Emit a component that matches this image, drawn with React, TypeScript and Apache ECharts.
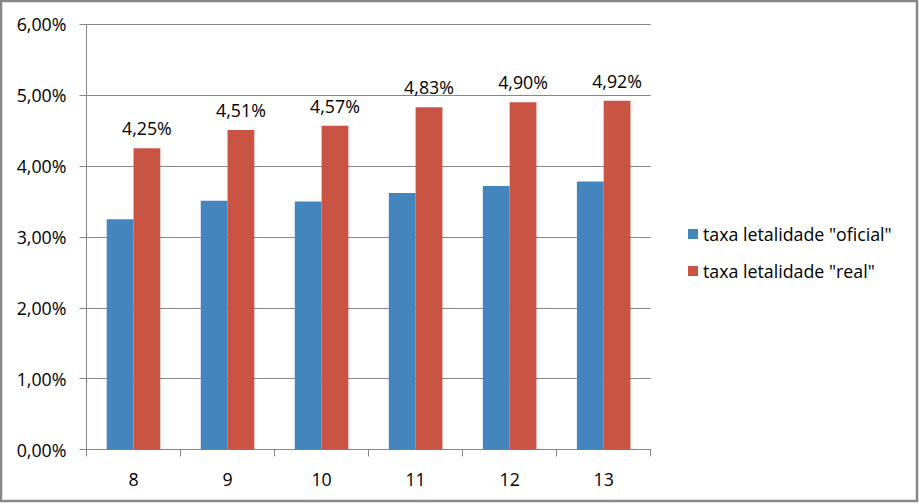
import React, { useEffect, useRef } from "react";
import * as echarts from "echarts";

const categories = ["8", "9", "10", "11", "12", "13"];
const oficialValues = [3.25, 3.51, 3.5, 3.62, 3.72, 3.78];
const realValues = [4.25, 4.51, 4.57, 4.83, 4.9, 4.92];
const seriesNames = ['taxa letalidade "oficial"', 'taxa letalidade "real"'];

const fmt = (v: number) => v.toFixed(2).replace(".", ",") + "%";

export default function App() {
  const ref = useRef<HTMLDivElement>(null);
  useEffect(() => {
    document.body.style.margin = "0";
    const chart = echarts.init(ref.current!, null, { renderer: "svg" });
    const font = "'Open Sans', sans-serif";
    const fs = 17.8;
    chart.setOption({
      animation: false,
      backgroundColor: "#ffffff",
      textStyle: { fontFamily: font },
      graphic: [
        {
          type: "rect",
          shape: { x: 1, y: 1, width: 916, height: 500 },
          style: { fill: "none", stroke: "#878787", lineWidth: 2.5 },
          silent: true,
        },
      ],
      grid: { left: 86.5, right: 268.3, top: 24.3, bottom: 54.5 },
      legend: {
        orient: "vertical",
        left: 683,
        top: 220,
        itemWidth: 10,
        itemHeight: 10,
        itemGap: 19,
        icon: "rect",
        textStyle: { fontFamily: font, fontSize: fs, color: "#000" },
        data: seriesNames,
      },
      xAxis: {
        type: "category",
        data: categories,
        axisLine: { lineStyle: { color: "#868686", width: 1 } },
        axisTick: { show: true, length: 7, lineStyle: { color: "#868686" } },
        axisLabel: { color: "#000", fontSize: fs, fontFamily: font, margin: 20 },
      },
      yAxis: {
        type: "value",
        min: 0,
        max: 6,
        interval: 1,
        axisLine: { show: true, lineStyle: { color: "#868686", width: 1 } },
        axisTick: { show: true, length: 7, lineStyle: { color: "#868686" } },
        splitLine: { lineStyle: { color: "#868686", width: 1 } },
        axisLabel: {
          color: "#000",
          fontSize: fs,
          fontFamily: font,
          margin: 20,
          formatter: (v: number) => fmt(v),
        },
      },
      series: [
        {
          name: seriesNames[0],
          type: "bar",
          data: oficialValues,
          barGap: "0%",
          barCategoryGap: "43%",
          itemStyle: { color: "#4485BE" },
        },
        {
          name: seriesNames[1],
          type: "bar",
          data: realValues,
          barGap: "0%",
          barCategoryGap: "43%",
          itemStyle: { color: "#CA5443" },
          label: {
            show: true,
            position: "top",
            distance: 11,
            color: "#000",
            fontSize: fs,
            fontFamily: font,
            formatter: (p: any) => fmt(p.value),
          },
        },
      ],
    });
    return () => chart.dispose();
  }, []);
  return (
    <div
      ref={ref}
      style={{ position: "absolute", left: 0, top: 0, width: 919, height: 504 }}
    />
  );
}
